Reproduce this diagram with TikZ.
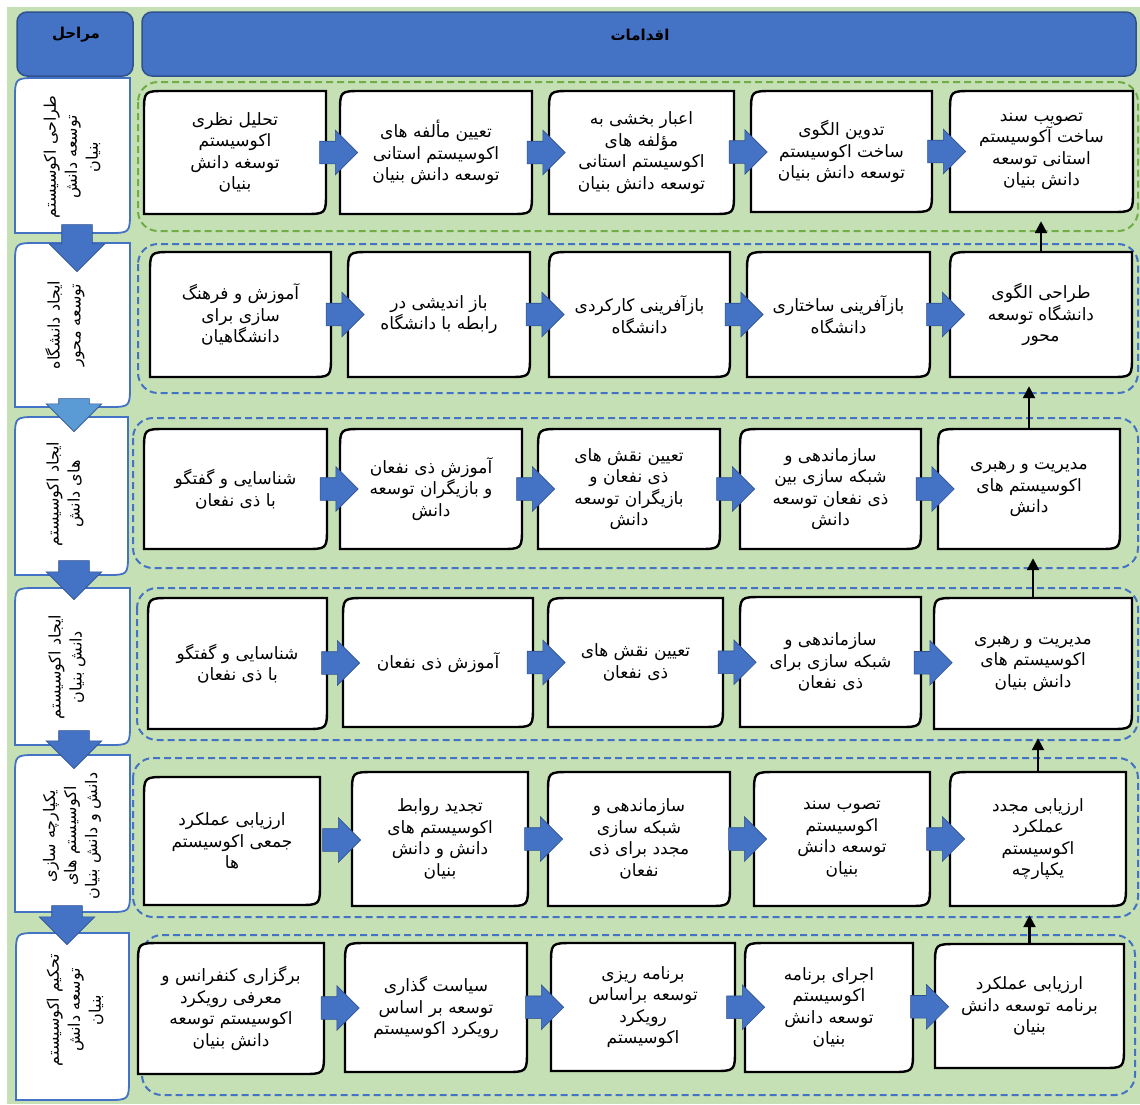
\documentclass[tikz,border=0pt]{standalone}
\usepackage{fontspec}
\newfontfamily\farsi[Script=Arabic]{DejaVu Sans}
\TeXXeTstate=1
\usetikzlibrary{arrows.meta,shapes.arrows,calc}

\definecolor{bggreen}{HTML}{C5E0B4}
\definecolor{headblue}{HTML}{4472C4}
\definecolor{headedge}{HTML}{2F528F}
\definecolor{lightblue}{HTML}{5B9BD5}
\definecolor{groupgreen}{HTML}{70AD47}

\newcommand{\rl}[1]{\beginR #1\endR}

\newcommand{\diagbox}[5]{
  \draw[#1] (#2,#5) -- ({#2},{#3+22}) .. controls (#2,#3) .. ({#2+22},{#3})
    -- (#4,#3) -- ({#4},{#5-22}) .. controls (#4,#5) .. ({#4-22},{#5}) -- cycle;
}

\newcommand{\actbox}[6]{
  \diagbox{actline}{#2}{#3}{#4}{#5}
  \node[acttext, minimum width={#4-#2}, minimum height={#5-#3}]
    (#1) at ({(#2+#4)/2},{(#3+#5)/2}) {#6};
}

\newcommand{\stagebox}[5]{
  \diagbox{stageline}{#2}{#3}{#4}{#5}
  \node[inner sep=0pt, minimum width={#4-#2}, minimum height={#5-#3}]
    (#1) at ({(#2+#4)/2},{(#3+#5)/2}) {};
}

\tikzset{
  headbox/.style={draw=headedge, fill=headblue, line width=1.5pt, rounded corners=10pt},
  headtext/.style={font=\farsi\bfseries\fontsize{15}{18}\selectfont, inner sep=0pt},
  groupline/.style={draw=headblue, line width=2pt, dash pattern=on 7pt off 4pt, rounded corners=20pt},
  actline/.style={draw=black, fill=white, line width=2.4pt},
  stageline/.style={draw=headblue, fill=white, line width=1.8pt},
  acttext/.style={align=center, inner sep=0pt, font=\farsi\fontsize{17}{21.5}\selectfont},
  stagetext/.style={rotate=90, align=center, inner sep=0pt, font=\farsi\fontsize{16}{21}\selectfont},
  rowarrow/.style={single arrow, draw=headedge, fill=headblue, line width=0.6pt,
    minimum height=38pt, inner xsep=0pt, inner ysep=11pt, single arrow head extend=11pt},
  stagearrow/.style={single arrow, rotate=-90, draw=headedge, fill=headblue,
    line width=0.6pt, inner xsep=0pt, inner ysep=15pt, single arrow head extend=12.5pt},
  uparrow/.style={draw=black, line width=2.4pt, -{Triangle[width=12pt,length=12pt]}, shorten >=9pt}
}

\begin{document}
\begin{tikzpicture}[x=1pt,y=-1pt]
  \useasboundingbox (0,0) rectangle (1140,1104);
  \fill[white] (0,0) rectangle (1140,1104);
  \fill[bggreen] (7,7) rectangle (1140,1104);

  \node[headbox, minimum width=116pt, minimum height=64pt] (h1) at (75,44) {};
  \node[headbox, minimum width=994pt, minimum height=64pt] (h2) at (639,44) {};
  \node[headtext] (h1t) at (76,35) {\rl{مراحل}};
  \node[headtext] (h2t) at (640,35) {\rl{اقدامات}};

  \draw[groupline, draw=groupgreen] (138,82) rectangle (1138,231);
  \draw[groupline] (138,244) rectangle (1138,393);
  \draw[groupline] (133,418) rectangle (1138,568);
  \draw[groupline] (137,588) rectangle (1138,740);
  \draw[groupline] (133,758) rectangle (1138,917);
  \draw[groupline] (142,935) rectangle (1135,1095);

  \stagebox{s1}{15}{78}{130}{233}
  \stagebox{s2}{15}{243}{130}{407}
  \stagebox{s3}{15}{417}{128}{575}
  \stagebox{s4}{15}{588}{130}{745}
  \stagebox{s5}{15}{755}{130}{912}
  \stagebox{s6}{16}{933}{129}{1100}

  \node[stagetext] (s1t) at (72,157) {\rl{طراحی اکوسیستم}\\\rl{توسعه دانش}\\\rl{بنیان}};
  \node[stagetext] (s2t) at (65,325) {\rl{ایجاد دانشگاه}\\\rl{توسعه محور}};
  \node[stagetext] (s3t) at (65,494) {\rl{ایجاد اکوسیستم}\\\rl{های دانش}};
  \node[stagetext] (s4t) at (67,667) {\rl{ایجاد اکوسیستم}\\\rl{دانش بنیان}};
  \node[stagetext] (s5t) at (72,836) {\rl{یکپارچه سازی}\\\rl{اکوسیستم های}\\\rl{دانش و دانش بنیان}};
  \node[stagetext] (s6t) at (75,1010) {\rl{تحکیم اکوسیستم}\\\rl{توسعه دانش}\\\rl{بنیان}};

  \node[stagearrow, minimum height=47pt] (sa1) at (77,240.5) {};
  \node[stagearrow, minimum height=33pt, fill=lightblue] (sa2) at (74,407.5) {};
  \node[stagearrow, minimum height=39pt] (sa3) at (74,572.5) {};
  \node[stagearrow, minimum height=38pt] (sa4) at (74,742) {};
  \node[stagearrow, minimum height=39pt] (sa5) at (67,917.5) {};

  \actbox{a11}{144}{91}{326}{214}{\rl{تحلیل نظری}\\\rl{اکوسیستم}\\\rl{توسغه دانش}\\\rl{بنیان}}
  \actbox{a12}{340}{91}{532}{214}{\rl{تعیین مألفه های}\\\rl{اکوسیستم استانی}\\\rl{توسعه دانش بنیان}}
  \actbox{a13}{549}{91}{734}{214}{\rl{اعبار بخشی به}\\\rl{مؤلفه های}\\\rl{اکوسیستم استانی}\\\rl{توسعه دانش بنیان}}
  \actbox{a14}{751}{91}{932}{212}{\rl{تدوین الگوی}\\\rl{ساخت اکوسیستم}\\\rl{توسعه دانش بنیان}}
  \actbox{a15}{950}{91}{1133}{212}{\rl{تصویب سند}\\\rl{ساخت آکوسیستم}\\\rl{استانی توسعه}\\\rl{دانش بنیان}}

  \actbox{a21}{150}{252}{331}{377}{\rl{آموزش و فرهنگ}\\\rl{سازی برای}\\\rl{دانشگاهیان}}
  \actbox{a22}{348}{252}{530}{377}{\rl{باز اندیشی در}\\\rl{رابطه با دانشگاه}}
  \actbox{a23}{549}{252}{730}{377}{\rl{بازآفرینی کارکردی}\\\rl{دانشگاه}}
  \actbox{a24}{747}{252}{930}{377}{\rl{بازآفرینی ساختاری}\\\rl{دانشگاه}}
  \actbox{a25}{950}{252}{1132}{377}{\rl{طراحی الگوی}\\\rl{دانشگاه توسعه}\\\rl{محور}}

  \actbox{a31}{144}{429}{327}{549}{\rl{شناسایی و گفتگو}\\\rl{با ذی نفعان}}
  \actbox{a32}{340}{429}{522}{549}{\rl{آموزش ذی نفعان}\\\rl{و بازیگران توسعه}\\\rl{دانش}}
  \actbox{a33}{538}{429}{720}{549}{\rl{تعیین نقش های}\\\rl{ذی نفعان و}\\\rl{بازیگران توسعه}\\\rl{دانش}}
  \actbox{a34}{740}{429}{921}{549}{\rl{سازماندهی و}\\\rl{شبکه سازی بین}\\\rl{ذی نفعان توسعه}\\\rl{دانش}}
  \actbox{a35}{938}{429}{1120}{549}{\rl{مدیریت و رهبری}\\\rl{اکوسیستم  های}\\\rl{دانش}}

  \actbox{a41}{148}{598}{327}{729}{\rl{شناسایی و گفتگو}\\\rl{با ذی نفعان}}
  \actbox{a42}{343}{598}{533}{727}{\rl{آموزش ذی نفعان}}
  \actbox{a43}{548}{598}{723}{727}{\rl{تعیین نقش های}\\\rl{ذی نفعان}}
  \actbox{a44}{740}{597}{921}{727}{\rl{سازماندهی و}\\\rl{شبکه سازی برای}\\\rl{ذی نفعان}}
  \actbox{a45}{934}{598}{1132}{729}{\rl{مدیریت و رهبری}\\\rl{اکوسیستم  های}\\\rl{دانش بنیان}}

  \actbox{a51}{144}{777}{320}{905}{\rl{ارزیابی عملکرد}\\\rl{جمعی اکوسیستم}\\\rl{ها}}
  \actbox{a52}{352}{772}{528}{906}{\rl{تجدید روابط}\\\rl{اکوسیستم های}\\\rl{دانش و دانش}\\\rl{بنیان}}
  \actbox{a53}{548}{772}{730}{906}{\rl{سازماندهی و}\\\rl{شبکه سازی}\\\rl{مجدد  برای ذی}\\\rl{نفعان}}
  \actbox{a54}{754}{772}{930}{906}{\rl{تصوب سند}\\\rl{اکوسیستم}\\\rl{توسعه دانش}\\\rl{بنیان}}
  \actbox{a55}{950}{772}{1126}{906}{\rl{ارزیابی مجدد}\\\rl{عملکرد}\\\rl{اکوسیستم}\\\rl{یکپارچه}}

  \actbox{a61}{138}{943}{324}{1074}{\rl{برگزاری کنفرانس و}\\\rl{معرفی رویکرد}\\\rl{اکوسیستم توسعه}\\\rl{دانش بنیان}}
  \actbox{a62}{345}{943}{527}{1072}{\rl{سیاست گذاری}\\\rl{توسعه بر اساس}\\\rl{رویکرد اکوسیستم}}
  \actbox{a63}{551}{943}{735}{1071}{\rl{برنامه ریزی}\\\rl{توسعه براساس}\\\rl{رویکرد}\\\rl{اکوسیستم}}
  \actbox{a64}{745}{943}{913}{1072}{\rl{اجرای برنامه}\\\rl{اکوسیستم}\\\rl{توسعه دانش}\\\rl{بنیان}}
  \actbox{a65}{935}{944}{1124}{1068}{\rl{ارزیابی عملکرد}\\\rl{برنامه توسعه دانش}\\\rl{بنیان}}

  \foreach \row in {1,...,6}
    \foreach \col/\nxt in {1/2,2/3,3/4,4/5}
      \node[rowarrow] (b\row\col) at ($(a\row\col.east)!0.5!(a\row\nxt.west)$) {};

  \foreach \row/\up in {2/1,3/2,4/3,5/4,6/5}
    \draw[uparrow] (a\row5.north) -- (a\row5.north |- a\up5.south);
\end{tikzpicture}
\end{document}
